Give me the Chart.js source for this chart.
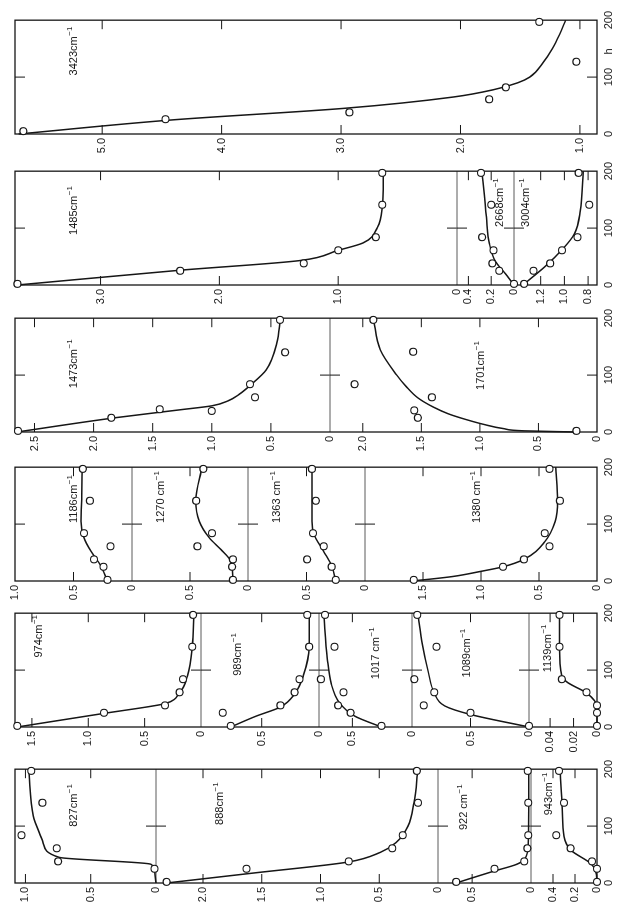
<!DOCTYPE html>
<html>
<head>
<meta charset="utf-8">
<script src="https://cdn.jsdelivr.net/npm/chart.js@4.4.1/dist/chart.umd.min.js"></script>
<style>
  html, body { margin: 0; padding: 0; background: #fff; overflow: hidden; }
  /* the figure is drawn upright (903 x 619) and turned a quarter left */
  #page { position: absolute; left: 0; top: 0; width: 903px; height: 619px;
          transform-origin: 0 0; transform: translate(0px, 903px) rotate(-90deg); }
  #page canvas { position: absolute; top: 0; }
</style>
</head>
<body>
<div id="page"></div>
<script>
// sampling heights h of the measured points
const hObs = [2, 25, 38, 61, 84, 141, 197];
const hObs1473 = [2, 25, 37, 40, 61, 84, 140, 197];
const hObs3423 = [5, 26, 38, 61, 82, 127, 197];
const hTicks = [0, 100, 200];

// 827 / 888 / 922 / 943
const v827 = [null, 0.012, 0.75, 0.76, 1.03, 0.87, 0.956];
const fitH827 = [0, 20, 33, 45, 71, 118, 200];
const fitV827 = [0, 0.01, 0.04, 0.74, 0.865, 0.94, 0.975];
const ticks827 = ['0', '0.5', '1.0'];
const v888 = [2.31, 1.63, 0.76, 0.39, 0.30, 0.17, 0.18];
const fitH888 = [0, 18, 37, 54, 71, 100, 141, 200];
const fitV888 = [2.31, 1.55, 0.76, 0.49, 0.357, 0.255, 0.205, 0.17];
const ticks888 = ['0', '0.5', '1.0', '1.5', '2.0'];
const v922 = [0.636, 0.31, 0.057, 0.031, 0.023, 0.023, 0.028];
const fitH922 = [0, 20, 33, 43, 70, 130, 200];
const fitV922 = [0.636, 0.33, 0.12, 0.05, 0.023, 0.02, 0.02];
const ticks922 = ['0', '0.5'];
const v943 = [0, 0, 0.046, 0.24, 0.37, 0.30, 0.345];
const fitH943 = [0, 20, 34, 58, 82, 130, 200];
const fitV943 = [0, 0.011, 0.055, 0.24, 0.30, 0.316, 0.336];
const ticks943 = ['0', '0.2', '0.4'];

// 974 / 989 / 1017 / 1089 / 1139
const v974 = [1.63, 0.86, 0.32, 0.19, 0.16, 0.077, 0.07];
const fitH974 = [0, 24, 36, 41, 60, 90, 141, 200];
const fitV974 = [1.63, 0.86, 0.456, 0.32, 0.19, 0.12, 0.077, 0.063];
const ticks974 = ['0', '0.5', '1.0', '1.5'];
const v989 = [0.77, 0.84, 0.337, 0.213, 0.17, 0.086, 0.103];
const fitH989 = [0, 19, 35, 58, 90, 141, 200];
const fitV989 = [0.77, 0.55, 0.337, 0.213, 0.137, 0.086, 0.086];
const ticks989 = ['0', '0.5'];
const v1017 = [0.256, 0.515, 0.62, 0.575, 0.764, 0.65, 0.73];
const fitH1017 = [0, 19, 43, 78, 120, 200];
const fitV1017 = [0.256, 0.48, 0.61, 0.68, 0.71, 0.74];
const ticks1017 = ['0', '0.5'];
const v1089 = [0, 0.5, 0.90, 0.81, 0.98, 0.79, 0.955];
const fitH1089 = [0, 22, 37, 60, 96, 144, 200];
const fitV1089 = [0, 0.5, 0.72, 0.81, 0.86, 0.91, 0.95];
const ticks1089 = ['0', '0.5'];
const v1139 = [0, 0, 0, 0.009, 0.03, 0.032, 0.032];
const fitH1139 = [0, 35, 60, 78, 90, 141, 200];
const fitV1139 = [0, 0, 0.009, 0.025, 0.03, 0.032, 0.032];
const ticks1139 = ['0', '0.02', '0.04'];

// 1186 / 1270 / 1363 / 1380
const v1186 = [0.21, 0.244, 0.325, 0.184, 0.41, 0.36, 0.42];
const fitH1186 = [0, 28, 52, 76, 105, 150, 200];
const fitV1186 = [0.21, 0.27, 0.35, 0.41, 0.435, 0.43, 0.425];
const ticks1186 = ['0', '0.5', '1.0'];
const v1270 = [0.13, 0.137, 0.13, 0.436, 0.31, 0.447, 0.385];
const fitH1270 = [0, 34, 55, 76, 105, 141, 200];
const fitV1270 = [0.13, 0.147, 0.232, 0.334, 0.42, 0.45, 0.395];
const ticks1270 = ['0', '0.5'];
const v1363 = [0.25, 0.285, 0.495, 0.353, 0.444, 0.42, 0.454];
const fitH1363 = [0, 27, 52, 82, 105, 200];
const fitV1363 = [0.25, 0.285, 0.353, 0.437, 0.454, 0.454];
const ticks1363 = ['0', '0.5'];
const v1380 = [1.58, 0.81, 0.63, 0.41, 0.45, 0.32, 0.41];
const fitH1380 = [0, 3, 8, 17, 25, 38, 69, 105, 141, 200];
const fitV1380 = [1.6, 1.45, 1.24, 1.0, 0.81, 0.63, 0.45, 0.36, 0.34, 0.355];
const ticks1380 = ['0', '0.5', '1.0', '1.5'];

// 1473 / 1701
const v1473 = [2.64, 1.85, 1.0, 1.44, 0.635, 0.677, 0.38, 0.423];
const fitH1473 = [0, 25, 39, 46, 55, 66, 82, 109, 156, 200];
const fitV1473 = [2.65, 1.82, 1.27, 1.0, 0.86, 0.77, 0.675, 0.54, 0.45, 0.42];
const ticks1473 = ['0', '0.5', '1.0', '1.5', '2.0', '2.5'];
const v1701 = [0.176, 1.53, 1.56, 1.41, 2.07, 1.57, 1.91];
const fitH1701 = [0, 2, 6, 13, 22, 32, 44, 60, 80, 100, 144, 200];
const fitV1701 = [0.18, 0.62, 0.80, 0.96, 1.12, 1.27, 1.40, 1.53, 1.63, 1.71, 1.85, 1.91];
const ticks1701 = ['0', '0.5', '1.0', '1.5', '2.0'];

// 1485 / 2668 / 3004
const v1485 = [3.70, 2.33, 1.29, 1.0, 0.683, 0.629, 0.629];
const fitH1485 = [0, 26, 43, 61, 74, 101, 136, 200];
const fitV1485 = [3.70, 2.33, 1.32, 1.00, 0.79, 0.67, 0.63, 0.62];
const ticks1485 = ['0', '1.0', '2.0', '3.0'];
const v2668 = [0.0, 0.13, 0.19, 0.18, 0.28, 0.20, 0.29];
const fitH2668 = [0, 20, 41, 72, 119, 200];
const fitV2668 = [0, 0.076, 0.162, 0.215, 0.242, 0.28];
const ticks2668 = ['0', '0.2', '0.4'];
const v3004 = [1.34, 1.26, 1.12, 1.02, 0.89, 0.79, 0.88];
const fitH3004 = [0, 32, 62, 90, 130, 200];
const fitV3004 = [1.35, 1.165, 1.02, 0.915, 0.866, 0.84];
const ticks3004 = ['0.8', '1.0', '1.2'];

// 3423
const v3423 = [5.66, 4.47, 2.93, 1.76, 1.62, 1.03, 1.34];
const fitH3423 = [0, 25, 45, 65, 78, 90, 100, 125, 150, 175, 200];
const fitV3423 = [5.70, 4.40, 2.98, 2.06, 1.72, 1.52, 1.42, 1.31, 1.23, 1.17, 1.12];
const ticks3423 = ['1.0', '2.0', '3.0', '4.0', '5.0'];

const FONT = '"Liberation Sans", Arial, sans-serif';
const INK = '#161616';

// columns left to right, panels top to bottom (px = panel height)
const columns = [
  { x0: 20, panels: [
    { name: '827cm', h: hObs, v: v827, fh: fitH827, fv: fitV827, ticks: ticks827, min: 0, max: 1.08, px: 141, lab: [99, 0.605] },
    { name: '888cm', h: hObs, v: v888, fh: fitH888, fv: fitV888, ticks: ticks888, min: 0, max: 2.4, px: 282, lab: [102, 1.83] },
    { name: '922 cm', h: hObs, v: v922, fh: fitH922, fv: fitV922, ticks: ticks922, min: 0, max: 0.79, px: 93, lab: [93, 0.546] },
    { name: '943cm', h: hObs, v: v943, fh: fitH943, fv: fitV943, ticks: ticks943, min: 0, max: 0.6, px: 66, lab: [119, 0.41] }
  ]},
  { x0: 176, panels: [
    { name: '974cm', h: hObs, v: v974, fh: fitH974, fv: fitV974, ticks: ticks974, min: 0, max: 1.65, px: 186, lab: [122, 1.41] },
    { name: '989cm', h: hObs, v: v989, fh: fitH989, fv: fitV989, ticks: ticks989, min: 0, max: 1.03, px: 118, lab: [90, 0.68] },
    { name: '1017 cm', h: hObs, v: v1017, fh: fitH1017, fv: fitV1017, ticks: ticks1017, min: 0, max: 0.78, px: 93, lab: [84, 0.277] },
    { name: '1089cm', h: hObs, v: v1089, fh: fitH1089, fv: fitV1089, ticks: ticks1089, min: 0, max: 1.0, px: 117, lab: [87, 0.504] },
    { name: '1139cm', h: hObs, v: v1139, fh: fitH1139, fv: fitV1139, ticks: ticks1139, min: 0, max: 0.058, px: 68, lab: [96, 0.039] }
  ]},
  { x0: 322, panels: [
    { name: '1186cm', h: hObs, v: v1186, fh: fitH1186, fv: fitV1186, ticks: ticks1186, min: 0, max: 1, px: 117, lab: [102, 0.47] },
    { name: '1270 cm', h: hObs, v: v1270, fh: fitH1270, fv: fitV1270, ticks: ticks1270, min: 0, max: 1, px: 116, lab: [102, 0.724] },
    { name: '1363 cm', h: hObs, v: v1363, fh: fitH1363, fv: fitV1363, ticks: ticks1363, min: 0, max: 1, px: 117, lab: [102, 0.726] },
    { name: '1380 cm', h: hObs, v: v1380, fh: fitH1380, fv: fitV1380, ticks: ticks1380, min: 0, max: 2, px: 232, lab: [102, 1.01] }
  ]},
  { x0: 471, panels: [
    { name: '1473cm', h: hObs1473, v: v1473, fh: fitH1473, fv: fitV1473, ticks: ticks1473, min: 0, max: 2.665, px: 315, lab: [77, 2.14] },
    { name: '1701cm', h: hObs, v: v1701, fh: fitH1701, fv: fitV1701, ticks: ticks1701, min: 0, max: 2.28, px: 267, lab: [74, 0.965] }
  ]},
  { x0: 618, panels: [
    { name: '1485cm', h: hObs, v: v1485, fh: fitH1485, fv: fitV1485, ticks: ticks1485, min: 0, max: 3.72, px: 442, lab: [88, 3.2] },
    { name: '2668cm', h: hObs, v: v2668, fh: fitH2668, fv: fitV2668, ticks: ticks2668, min: 0, max: 0.5, px: 57, lab: [102, 0.096] },
    { name: '3004cm', h: hObs, v: v3004, fh: fitH3004, fv: fitV3004, ticks: ticks3004, min: 0.725, max: 1.425, px: 83, lab: [102, 1.3] }
  ]},
  { x0: 769, hLabel: true, panels: [
    { name: '3423cm', h: hObs3423, v: v3423, fh: fitH3423, fv: fitV3423, ticks: ticks3423, min: 0.857, max: 5.73, px: 582, lab: [103, 5.21] }
  ]}
];

const PLOT_W = 114, AXIS_W = 28, PAD_R = 14, TL = 9;

function framePlugin(col) {
  return {
    id: 'frame',
    beforeDatasetsDraw(chart) {
      const ctx = chart.ctx, a = chart.chartArea, xs = chart.scales.x;
      const hx = xs.getPixelForValue(100);
      ctx.save();
      ctx.lineCap = 'butt';
      col.panels.forEach((p, i) => {
        const ys = chart.scales['y' + i];
        ctx.strokeStyle = INK;
        ctx.lineWidth = 1;
        ctx.beginPath();
        p.ticks.forEach(t => {
          const y = ys.getPixelForValue(parseFloat(t));
          if (y < ys.top + 1 || y > ys.bottom - 1) return;
          ctx.moveTo(a.left, y); ctx.lineTo(a.left + TL, y);
          ctx.moveTo(a.right - TL, y); ctx.lineTo(a.right, y);
        });
        ctx.moveTo(hx, ys.top); ctx.lineTo(hx, ys.top + TL + 1);
        ctx.moveTo(hx, ys.bottom); ctx.lineTo(hx, ys.bottom - TL - 1);
        ctx.stroke();
        if (i < col.panels.length - 1) {
          ctx.strokeStyle = '#5a5a5a';
          ctx.beginPath();
          ctx.moveTo(a.left, ys.bottom); ctx.lineTo(a.right, ys.bottom);
          ctx.stroke();
        }
      });
      ctx.strokeStyle = INK;
      ctx.lineWidth = 1.3;
      ctx.strokeRect(a.left, a.top, a.right - a.left, a.bottom - a.top);
      ctx.restore();
    },
    afterDatasetsDraw(chart) {
      const ctx = chart.ctx, xs = chart.scales.x;
      ctx.save();
      ctx.fillStyle = INK;
      ctx.textAlign = 'left';
      ctx.textBaseline = 'alphabetic';
      col.panels.forEach((p, i) => {
        const ys = chart.scales['y' + i];
        const x = xs.getPixelForValue(p.lab[0]);
        const y = ys.getPixelForValue(p.lab[1]);
        ctx.font = '11px ' + FONT;
        ctx.fillText(p.name, x, y);
        const w = ctx.measureText(p.name).width;
        ctx.font = '8px ' + FONT;
        ctx.fillText('\u22121', x + w + 0.5, y - 5);
      });
      ctx.restore();
    }
  };
}

const page = document.getElementById('page');

columns.forEach(col => {
  const cv = document.createElement('canvas');
  cv.width = AXIS_W + PLOT_W + PAD_R;
  cv.height = 619;
  cv.style.left = (col.x0 - AXIS_W) + 'px';
  cv.style.width = cv.width + 'px';
  cv.style.height = '619px';
  page.appendChild(cv);

  const xTicks = col.hLabel ? [0, 100, 145, 200] : hTicks;
  const scales = {
    x: {
      type: 'linear', position: 'bottom', min: 0, max: 200,
      afterBuildTicks: s => { s.ticks = xTicks.map(v => ({ value: v })); },
      ticks: { autoSkip: false, maxRotation: 0, color: INK, padding: 5,
               font: { family: FONT, size: 11 },
               callback: v => (v === 145 ? 'h' : String(v)) },
      grid: { display: false, drawTicks: false },
      border: { display: false },
      afterFit: s => { s.height = 22; }
    }
  };
  const datasets = [];
  const n = col.panels.length;
  col.panels.forEach((p, i) => {
    const id = 'y' + i;
    scales[id] = {
      type: 'linear', position: 'left', stack: 'col', stackWeight: p.px, weight: n - i,
      min: p.min, max: p.max,
      afterBuildTicks: s => { s.ticks = p.ticks.map(t => ({ value: parseFloat(t) })); },
      ticks: { autoSkip: false, color: INK, padding: 4,
               font: { family: FONT, size: 11 },
               callback: (v, k) => p.ticks[k] },
      grid: { display: false, drawTicks: false },
      border: { display: false },
      afterFit: s => { s.width = AXIS_W; }
    };
    datasets.push({
      type: 'scatter', yAxisID: id, order: 0, clip: false,
      data: p.h.map((h, k) => ({ x: h, y: p.v[k] })).filter(d => d.y !== null),
      pointRadius: 3.5, pointBorderWidth: 1.1,
      pointBackgroundColor: '#fff', pointBorderColor: INK
    });
    datasets.push({
      type: 'line', yAxisID: id, order: 1, clip: false,
      data: p.fh.map((h, k) => ({ x: h, y: p.fv[k] })),
      borderColor: INK, borderWidth: 1.5, pointRadius: 0,
      cubicInterpolationMode: 'monotone', fill: false
    });
  });

  new Chart(cv, {
    type: 'scatter',
    data: { datasets },
    options: {
      responsive: false, animation: false, devicePixelRatio: 1,
      layout: { padding: { left: 0, right: PAD_R, top: 15, bottom: 0 } },
      plugins: { legend: { display: false }, tooltip: { enabled: false } },
      scales
    },
    plugins: [framePlugin(col)]
  });
});
</script>
</body>
</html>
